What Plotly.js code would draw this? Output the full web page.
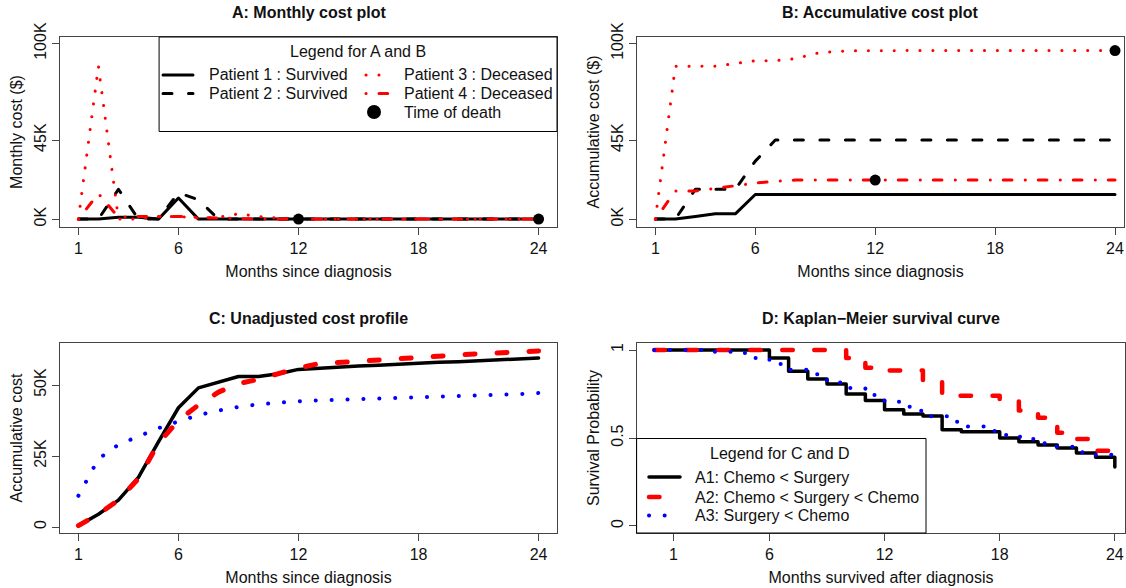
<!DOCTYPE html>
<html>
<head>
<meta charset="utf-8">
<script src="https://cdn.plot.ly/plotly-3.0.1.min.js"></script>
<style>
html,body{margin:0;padding:0;background:#fff;}
#chart{width:1126px;height:588px;}
.scatterlayer .js-line, .shapelayer path { stroke-linecap: round !important; stroke-linejoin: round !important; }
</style>
</head>
<body>
<div id="chart"></div>
<script>
// ---------------- data (costs in thousands of $) ----------------
const months = [1,2,3,4,5,6,7,8,9,10,11,12,13,14,15,16,17,18,19,20,21,22,23,24];

// Panel A: monthly cost
const monthlyP1 = [0,0,1,1,0,12,0,0,0,0,0,0,0,0,0,0,0,0,0,0,0,0,0,0];
const monthlyP2 = [0,0,17,0,0,15,11,0,0,0,0,0,0,0,0,0,0,0,0,0,0,0,0,0];
const monthlyP3 = [0,87,0,0,1.5,1.5,0.5,1,3,1.5,0.5,0,0,0,0,0,0,0,0,0,0,0,0,0];
const monthlyP4 = [0,14.5,1,1.5,1.5,1.5,1,0.5,0.3,0,0,0,0,0,0,0,0,0,0,0,0,0,0,0];

// Panel B: accumulative cost
const cumP1 = [0,0,1.5,3,3,14,14,14,14,14,14,14,14,14,14,14,14,14,14,14,14,14,14,14];
const cumP2 = [0,0,17,17,17,33,45,45,45,45,45,45,45,45,45,45,45,45,45,45,45,45,45,45];
const cumP3 = [0,87,87,87.1,88.6,90.2,90.2,91.3,94.3,95.5,95.8,96,96,96,96,96,96,96,96,96,96,96,96,96];
const cumP4 = [0,16,16,17.5,19,20.5,21.5,22.2,22.2,22.2,22.2,22.2,22.2,22.2,22.2,22.2,22.2,22.2,22.2,22.2,22.2,22.2,22.2,22.2];

// time of death (month) for Patient 4 and Patient 3
const deathMonthP4 = 12;
const deathMonthP3 = 24;

// Panel C: unadjusted cost profile
const profileA1 = [0.5,4.5,9.5,17.5,30,42,49,51,53,53,54,55.5,56,56.3,56.7,57,57.4,57.7,58,58.2,58.5,58.9,59.2,59.5];
const profileA2 = [0.5,4.5,9.5,17,29.5,37.5,43,47.5,50.5,52,54,56,57.5,58,58.5,59,59.5,60,60.3,60.6,61,61.4,61.7,62];
const profileA3 = [11,24,29,32,34.8,37.2,39.4,41,42.3,43.2,43.8,44.3,44.6,44.8,45,45.3,45.5,45.7,45.9,46.1,46.3,46.5,46.8,47.2];

// Panel D: Kaplan-Meier survival
const kmA1Time = [0,6,7,8,9,10,11,12,13,14,15,16,18,19,20,21,22,23,24];
const kmA1Surv = [1,0.955,0.88,0.835,0.807,0.75,0.713,0.66,0.636,0.625,0.547,0.536,0.5,0.479,0.46,0.443,0.415,0.39,0.335];
const kmA2Time = [0,10,11,12,14,15,18,19,20,21,22,23,24];
const kmA2Surv = [1,0.955,0.9,0.883,0.82,0.74,0.71,0.657,0.615,0.53,0.494,0.428,0.428];
const kmA3Time = [0,3,4,5,6,7,8,9,10,11,12,13,13.5,14,15.5,16,17.5,18,19,19.5,20,20.5,22,23,24];
const kmA3Surv = [1,0.99,0.983,0.955,0.92,0.888,0.862,0.815,0.784,0.744,0.706,0.678,0.655,0.623,0.593,0.566,0.54,0.517,0.507,0.494,0.47,0.45,0.419,0.405,0.405];

// tick labels
const monthTicks = [1,6,12,18,24];
const costTickVals = [0,45,100];
const costTickText = ['0K','45K','100K'];
const profTickVals = [0,25,50];
const profTickText = ['0','25K','50K'];
const survTickVals = [0,0.5,1];
const survTickText = ['0','0.5','1'];

// legend labels
const legendAB = ['Patient 1 : Survived','Patient 2 : Survived','Patient 3 : Deceased','Patient 4 : Deceased','Time of death'];
const legendCD = ['A1: Chemo < Surgery','A2: Chemo < Surgery < Chemo','A3: Surgery < Chemo'];

// ---------------- styles ----------------
const W = 1126, H = 588;
const PX = x => x / W;
const PY = y => 1 - y / H;
const FONT = 'Liberation Sans, Arial, Helvetica, sans-serif';

const S_P1 = {color:'#000', width:3, dash:'solid'};
const S_P2 = {color:'#000', width:3, dash:'9px,16.5px'};
const S_P3 = {color:'#ff0000', width:3, dash:'0.1px,12.8px'};
const S_P4 = {color:'#ff0000', width:3, dash:'0.1px,12.9px,8.7px,13.3px'};
const S_A1 = {color:'#000', width:3.5, dash:'solid'};
const S_A2 = {color:'#ff0000', width:5, dash:'10px,22px'};
const S_A3 = {color:'#0000ff', width:4, dash:'0.1px,15.8px'};
const S_A2D = {color:'#ff0000', width:4.5, dash:'10.5px,21.5px'};
const S_A3D = {color:'#0000ff', width:4, dash:'0.1px,15.5px'};

function line(x, y, style, xa, ya, shape) {
  return {x:x, y:y, type:'scatter', mode:'lines', line:Object.assign({shape: shape||'linear'}, style),
          xaxis:xa, yaxis:ya, hoverinfo:'skip'};
}
function deaths(xs, ys, xa, ya) {
  return {x:xs, y:ys, type:'scatter', mode:'markers', marker:{color:'#000', size:11},
          xaxis:xa, yaxis:ya, hoverinfo:'skip'};
}

const traces = [
  line(months, monthlyP1, S_P1, 'x', 'y'),
  line(months, monthlyP2, S_P2, 'x', 'y'),
  line(months, monthlyP3, S_P3, 'x', 'y'),
  line(months, monthlyP4, S_P4, 'x', 'y'),
  deaths([deathMonthP4, deathMonthP3], [monthlyP4[deathMonthP4-1], monthlyP3[deathMonthP3-1]], 'x', 'y'),

  line(months, cumP1, S_P1, 'x2', 'y2'),
  line(months, cumP2, S_P2, 'x2', 'y2'),
  line(months, cumP3, S_P3, 'x2', 'y2'),
  line(months, cumP4, S_P4, 'x2', 'y2'),
  deaths([deathMonthP4, deathMonthP3], [cumP4[deathMonthP4-1], cumP3[deathMonthP3-1]], 'x2', 'y2'),

  line(months, profileA1, S_A1, 'x3', 'y3'),
  line(months, profileA2, S_A2, 'x3', 'y3'),
  line(months, profileA3, S_A3, 'x3', 'y3'),

  line(kmA1Time, kmA1Surv, S_A1, 'x4', 'y4', 'hv'),
  line(kmA2Time, kmA2Surv, S_A2D, 'x4', 'y4', 'hv'),
  line(kmA3Time, kmA3Surv, S_A3D, 'x4', 'y4', 'hv'),
];

function xAx(domain, range, anchor, title) {
  return {domain:domain, range:range, anchor:anchor, tickvals:monthTicks, ticktext:monthTicks.map(String),
    ticks:'outside', ticklen:7, tickwidth:1, tickcolor:'#444', showline:true, mirror:true, linecolor:'#444', linewidth:1,
    showgrid:false, zeroline:false, fixedrange:true, tickfont:{size:16, family:FONT, color:'#111'},
    title:{text:title, standoff:9, font:{size:16, family:FONT, color:'#111'}}};
}
function yAx(domain, range, anchor, vals, text, title) {
  return {domain:domain, range:range, anchor:anchor, tickvals:vals, ticktext:text, tickangle:-90,
    ticks:'outside', ticklen:7, tickwidth:1, tickcolor:'#444', showline:true, mirror:true, linecolor:'#444', linewidth:1,
    showgrid:false, zeroline:false, fixedrange:true, tickfont:{size:16, family:FONT, color:'#111'},
    title:{text:title, standoff:4, font:{size:16, family:FONT, color:'#111'}}};
}

const topDom = [PY(227), PY(37)];
const botDom = [PY(533), PY(343)];

const shapes = [];
const annotations = [];
function ann(text, x, y, opts) {
  annotations.push(Object.assign({text:text, x:PX(x), y:PY(y), xref:'paper', yref:'paper', showarrow:false,
    xanchor:'left', yanchor:'middle', font:{size:16, family:FONT, color:'#111'}}, opts||{}));
}
function sample(x0, x1, y, style) {
  shapes.push({type:'line', xref:'paper', yref:'paper', x0:PX(x0), x1:PX(x1), y0:PY(y), y1:PY(y),
    line:{color:style.color, width:style.width, dash:style.dash}});
}

// subplot titles
ann('<b>A: Monthly cost plot</b>', 308.5, 12, {xanchor:'center'});
ann('<b>B: Accumulative cost plot</b>', 880.5, 12, {xanchor:'center'});
ann('<b>C: Unadjusted cost profile</b>', 308.5, 318, {xanchor:'center'});
ann('<b>D: Kaplan\u2212Meier survival curve</b>', 881, 318, {xanchor:'center'});

// Legend A/B
shapes.push({type:'rect', xref:'paper', yref:'paper', x0:PX(159.5), x1:PX(557), y0:PY(131.5), y1:PY(37),
  line:{color:'#000', width:1}, fillcolor:'rgba(255,255,255,1)', layer:'above'});
ann('Legend for A and B', 358, 51, {xanchor:'center'});
sample(163, 193, 75, S_P1);  ann(legendAB[0], 207, 75);
sample(163, 193, 93.5, S_P2); ann(legendAB[1], 207, 93.5);
sample(366, 388, 75, S_P3);  ann(legendAB[2], 402, 75);
sample(366, 388, 93.5, S_P4); ann(legendAB[3], 402, 93.5);
shapes.push({type:'circle', xref:'paper', yref:'paper', x0:PX(367), x1:PX(381), y0:PY(119), y1:PY(105),
  fillcolor:'#000', line:{color:'#000', width:0}});
ann(legendAB[4], 402, 112);

// Legend C/D
shapes.push({type:'rect', xref:'paper', yref:'paper', x0:PX(637), x1:PX(926), y0:PY(533), y1:PY(438.5),
  line:{color:'#000', width:1}, fillcolor:'rgba(255,255,255,1)', layer:'above'});
ann('Legend for C and D', 780, 453, {xanchor:'center'});
sample(649, 680, 477, S_A1);  ann(legendCD[0], 693, 477);
sample(649, 680, 497, S_A2D); ann(legendCD[1], 693, 497);
sample(649, 680, 515.5, S_A3D); ann(legendCD[2], 693, 515.5);

const layout = {
  width:W, height:H, margin:{l:0, r:0, t:0, b:0}, showlegend:false,
  paper_bgcolor:'#fff', plot_bgcolor:'#fff',
  font:{family:FONT, size:16, color:'#111'},
  xaxis:  xAx([PX(60), PX(557)], [0.08, 24.92], 'y', 'Months since diagnosis'),
  yaxis:  yAx(topDom, [-4.5, 103.7], 'x', costTickVals, costTickText, 'Monthly cost ($)'),
  xaxis2: xAx([PX(637), PX(1124)], [0.08, 24.45], 'y2', 'Months since diagnosis'),
  yaxis2: yAx(topDom, [-4.5, 103.7], 'x2', costTickVals, costTickText, 'Accumulative cost ($)'),
  xaxis3: xAx([PX(60), PX(557)], [0.08, 24.92], 'y3', 'Months since diagnosis'),
  yaxis3: yAx(botDom, [-2.1, 64.8], 'x3', profTickVals, profTickText, 'Accumulative cost'),
  xaxis4: xAx([PX(637), PX(1125)], [-0.9, 24.53], 'y4', 'Months survived after diagnosis'),
  yaxis4: yAx(botDom, [-0.04, 1.04], 'x4', survTickVals, survTickText, 'Survival Probability'),
  shapes:shapes,
  annotations:annotations
};

Plotly.newPlot('chart', traces, layout, {staticPlot:true, displayModeBar:false});
</script>
</body>
</html>
